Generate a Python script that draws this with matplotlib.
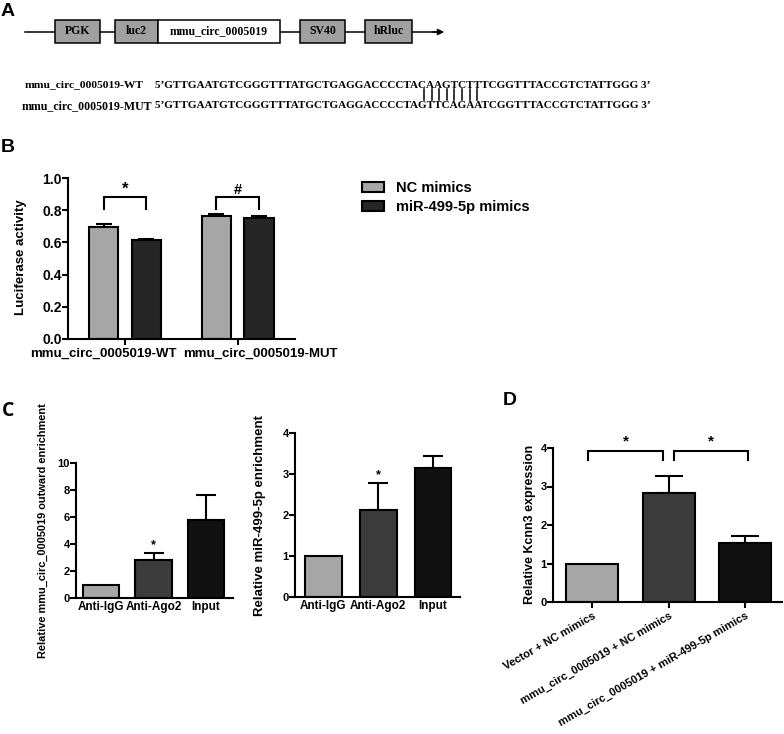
import matplotlib
matplotlib.use('Agg')
import matplotlib.pyplot as plt
import matplotlib.transforms as mtransforms
from matplotlib.patches import Rectangle
import numpy as np

# ---------------- data ----------------
construct_parts = ['PGK', 'luc2', 'mmu_circ_0005019', 'SV40', 'hRluc']
seq_labels = ['mmu_circ_0005019-WT', 'mmu_circ_0005019-MUT']
seq_wt = "GTTGAATGTCGGGTTTATGCTGAGGACCCCTACAAGTCTTTCGGTTTACCGTCTATTGGG"
seq_mut = "GTTGAATGTCGGGTTTATGCTGAGGACCCCTAGTTCAGAATCGGTTTACCGTCTATTGGG"

b_groups = ['mmu_circ_0005019-WT', 'mmu_circ_0005019-MUT']
b_series = ['NC mimics', 'miR-499-5p mimics']
b_nc = [0.695, 0.765]
b_nc_err = [0.022, 0.013]
b_mir = [0.615, 0.750]
b_mir_err = [0.005, 0.016]
b_sig = ['*', '#']
b_yticks = [0.0, 0.2, 0.4, 0.6, 0.8, 1.0]

c_cats = ['Anti-IgG', 'Anti-Ago2', 'Input']
c1_vals = [1.0, 2.85, 5.75]
c1_err = [0.0, 0.46, 1.88]
c1_sig = ['', '*', '']
c1_yticks = [0, 2, 4, 6, 8, 10]
c2_vals = [1.0, 2.12, 3.15]
c2_err = [0.0, 0.65, 0.29]
c2_sig = ['', '*', '']
c2_yticks = [0, 1, 2, 3, 4]

d_cats = ['Vector + NC mimics', 'mmu_circ_0005019 + NC mimics',
          'mmu_circ_0005019 + miR-499-5p mimics']
d_vals = [1.0, 2.83, 1.53]
d_err = [0.0, 0.44, 0.18]
d_yticks = [0, 1, 2, 3, 4]

# ---------------- style ----------------
plt.rcParams['font.family'] = ['Liberation Sans', 'DejaVu Sans']
plt.rcParams['font.weight'] = 'bold'
plt.rcParams['axes.linewidth'] = 1.5

W, H = 784, 734
fig = plt.figure(figsize=(W / 100, H / 100), dpi=100)

def fx(x):
    return x / W

def fy(y):
    return 1 - y / H

def add_axes_px(left, top, right, bottom):
    return fig.add_axes([fx(left), fy(bottom), (right - left) / W, (bottom - top) / H])

LIGHT = '#a6a6a6'
DARK_B = '#262626'
MID = '#3c3c3c'
BLACK = '#111111'

def style_axes(ax, tick_fs, xticks_on=True):
    for s in ['top', 'right']:
        ax.spines[s].set_visible(False)
    ax.tick_params(axis='y', length=4, width=1.5, pad=0.5, labelsize=tick_fs)
    if xticks_on:
        ax.tick_params(axis='x', length=4, width=1.5, pad=2)
    else:
        ax.tick_params(axis='x', length=0, pad=2)
    for lab in ax.get_yticklabels():
        lab.set_fontweight('bold')

def draw_bars(ax, x, vals, errs, colors, width, capsize):
    x = np.asarray(x, dtype=float)
    ax.bar(x, vals, width=width, color=colors, edgecolor='black', linewidth=1.5, zorder=2)
    errs = np.asarray(errs, dtype=float)
    m = errs > 0
    ax.errorbar(x[m], np.asarray(vals)[m], yerr=[np.zeros(m.sum()), errs[m]], fmt='none',
                ecolor='black', elinewidth=1.5, capsize=capsize, capthick=1.5, zorder=1)

# ---------------- Panel A ----------------
axA = fig.add_axes([0, 0, 1, 1], zorder=-1)
axA.set_xlim(0, W)
axA.set_ylim(H, 0)
axA.axis('off')

line_y = 32
axA.plot([25, 440], [line_y, line_y], color='black', lw=1.1, zorder=1)
axA.annotate('', xy=(447, line_y), xytext=(430, line_y),
             arrowprops=dict(arrowstyle='-|>', color='black', lw=1.1, mutation_scale=9))
box_x = [(55, 100), (115, 158), (158, 280), (300, 345), (365, 412)]
box_fc = ['#a0a0a0', '#a0a0a0', 'white', '#a0a0a0', '#a0a0a0']
for (x0, x1), fc, name in zip(box_x, box_fc, construct_parts):
    axA.add_patch(Rectangle((x0, 20), x1 - x0, 23, facecolor=fc, edgecolor='black', lw=1.1, zorder=2))
    axA.text((x0 + x1) / 2, 31.5, name, ha='center', va='center', fontsize=8.5,
             family='Liberation Serif', weight='bold', zorder=3)

fig.text(fx(1), fy(11), 'A', fontsize=14, weight='bold', va='center', ha='left')

renderer = fig.canvas.get_renderer()

def fit_text(t, target_w):
    w = t.get_window_extent(renderer).width
    t.set_fontsize(t.get_fontsize() * target_w / w)

t1 = fig.text(fx(25), fy(85), seq_labels[0], va='center', ha='left', fontsize=8,
              family='Liberation Serif', weight='bold')
fit_text(t1, 118)
t2 = fig.text(fx(22), fy(106), seq_labels[1], va='center', ha='left', fontsize=8,
              family='Liberation Serif', weight='bold')
fit_text(t2, 130)
s1 = fig.text(fx(155), fy(85), "5\u2019" + seq_wt + " 3\u2019", va='center', ha='left', fontsize=8,
              family='Liberation Serif', weight='bold')
fit_text(s1, 495)
s2 = fig.text(fx(155), fy(106), "5\u2019" + seq_mut + " 3\u2019", va='center', ha='left', fontsize=8,
              family='Liberation Serif', weight='bold')
fit_text(s2, 495)

mism = [i for i, (a, b) in enumerate(zip(seq_wt, seq_mut)) if a != b]
for k, i in enumerate(mism):
    xb = 424 + k * 7.6
    axA.plot([xb, xb], [89, 100], color='black', lw=1.1)

# ---------------- Panel B ----------------
fig.text(fx(1), fy(147), 'B', fontsize=14, weight='bold', va='center', ha='left')
axB = add_axes_px(68, 178, 295, 339)
xg = np.arange(len(b_groups))
off = 0.19
bw = 0.26
axB.bar(xg - off, b_nc, width=bw, color=LIGHT, edgecolor='black', linewidth=1.5, zorder=2, label=b_series[0])
axB.bar(xg + off, b_mir, width=bw, color=DARK_B, edgecolor='black', linewidth=1.5, zorder=2, label=b_series[1])
axB.errorbar(xg - off, b_nc, yerr=[np.zeros(2), b_nc_err], fmt='none', ecolor='black',
             elinewidth=1.5, capsize=5.5, capthick=1.5, zorder=1)
axB.errorbar(xg + off, b_mir, yerr=[np.zeros(2), b_mir_err], fmt='none', ecolor='black',
             elinewidth=1.5, capsize=5.5, capthick=1.5, zorder=1)
axB.set_xlim(-0.507, 1.511)
axB.set_ylim(0, 1.0)
axB.set_yticks(b_yticks)
axB.set_yticklabels([f'{v:.1f}' for v in b_yticks])
axB.set_xticks(xg)
axB.set_xticklabels(b_groups, fontsize=9.5, fontweight='bold')
style_axes(axB, 10)
for lab, dx in zip(axB.get_xticklabels(), [-0.22, 0.23]):
    lab.set_transform(lab.get_transform() + mtransforms.ScaledTranslation(dx, 0, fig.dpi_scale_trans))
for i, sg in enumerate(b_sig):
    axB.plot([i - off, i - off, i + off, i + off], [0.81, 0.88, 0.88, 0.81], color='black', lw=1.5,
             clip_on=False, solid_joinstyle='miter')
    axB.text(i, 0.885, sg, ha='center', va='bottom', fontsize=12 if sg == '*' else 10.5, weight='bold')
fig.text(fx(21), fy(257), 'Luciferase activity', rotation=90, ha='center', va='center', fontsize=9.5)
axB.legend(loc='upper left', bbox_to_anchor=(fx(362), fy(181)), bbox_transform=fig.transFigure,
           frameon=False, prop={'size': 10.5, 'weight': 'bold'}, handlelength=1.5, handleheight=0.75,
           handletextpad=0.8, labelspacing=0.35, borderpad=0, borderaxespad=0)

# ---------------- Panel C ----------------
fig.text(fx(2), fy(411), 'C', fontsize=14, weight='bold', va='center', ha='left', family='Open Sans')
xc = np.arange(len(c_cats))
axC1 = add_axes_px(76, 463, 233, 598)
draw_bars(axC1, xc, c1_vals, c1_err, [LIGHT, MID, BLACK], 0.686, 7)
axC1.set_xlim(-0.476, 2.514)
axC1.set_ylim(0, 10)
axC1.set_yticks(c1_yticks)
axC1.set_xticks(xc)
axC1.set_xticklabels(c_cats, fontsize=8.5, fontweight='bold')
style_axes(axC1, 8, xticks_on=False)
for i, sg in enumerate(c1_sig):
    if sg:
        axC1.text(i, c1_vals[i] + c1_err[i] + 0.15, sg, ha='center', va='bottom', fontsize=9, weight='bold')
fig.text(fx(43), fy(531), 'Relative mmu_circ_0005019 outward enrichment', rotation=90,
         ha='center', va='center', fontsize=7.9)

axC2 = add_axes_px(295, 433, 460, 597)
draw_bars(axC2, xc, c2_vals, c2_err, [LIGHT, MID, BLACK], 0.67, 7)
axC2.set_xlim(-0.518, 2.49)
axC2.set_ylim(0, 4)
axC2.set_yticks(c2_yticks)
axC2.set_xticks(xc)
axC2.set_xticklabels(c_cats, fontsize=8.5, fontweight='bold')
style_axes(axC2, 8, xticks_on=False)
for i, sg in enumerate(c2_sig):
    if sg:
        axC2.text(i, c2_vals[i] + c2_err[i] + 0.05, sg, ha='center', va='bottom', fontsize=9, weight='bold')
fig.text(fx(260), fy(515), 'Relative miR-499-5p enrichment', rotation=90,
         ha='center', va='center', fontsize=9.5)

# ---------------- Panel D ----------------
fig.text(fx(503), fy(400), 'D', fontsize=14, weight='bold', va='center', ha='left')
xd = np.arange(len(d_cats))
axD = add_axes_px(553, 448, 782, 602)
draw_bars(axD, xd, d_vals, d_err, [LIGHT, MID, BLACK], 0.68, 10)
axD.set_xlim(-0.51, 2.48)
axD.set_ylim(0, 4)
axD.set_yticks(d_yticks)
axD.set_xticks(xd)
axD.set_xticklabels(d_cats, fontsize=8, fontweight='bold', rotation=30, ha='right',
                    va='top', rotation_mode='anchor')
style_axes(axD, 8)
for (a, b) in [(-0.05, 0.93), (1.07, 2.03)]:
    axD.plot([a, a, b, b], [3.69, 3.92, 3.92, 3.69], color='black', lw=1.5, clip_on=False,
             solid_joinstyle='miter')
    axD.text((a + b) / 2, 3.98, '*', ha='center', va='bottom', fontsize=11, weight='bold')
fig.text(fx(530), fy(524), 'Relative Kcnn3 expression', rotation=90,
         ha='center', va='center', fontsize=9)

fig.savefig('out.png', dpi=100)
